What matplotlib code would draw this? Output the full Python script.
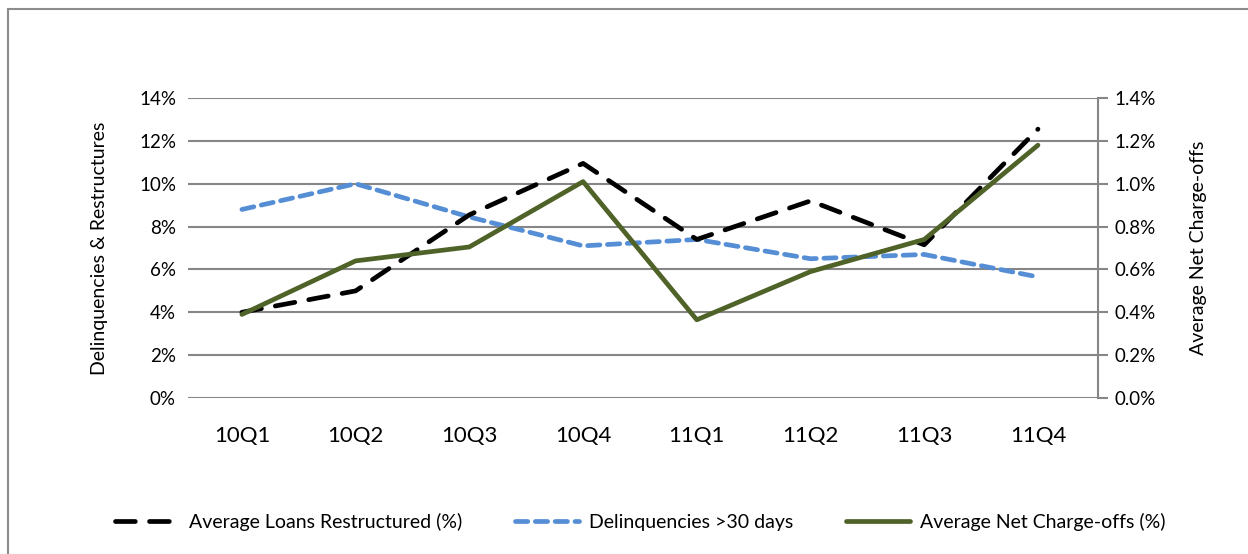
import matplotlib.pyplot as plt
from matplotlib.patches import Rectangle
from matplotlib.ticker import FuncFormatter

quarters = ["10Q1", "10Q2", "10Q3", "10Q4", "11Q1", "11Q2", "11Q3", "11Q4"]
# left axis, percent
loans_restructured = [4.0, 5.0, 8.55, 10.95, 7.4, 9.2, 7.15, 12.55]
delinquencies_30d = [8.8, 10.0, 8.45, 7.1, 7.4, 6.5, 6.7, 5.65]
# right axis, percent
net_charge_offs = [0.39, 0.64, 0.705, 1.01, 0.365, 0.59, 0.74, 1.18]

GRID = "#868686"
BLUE = "#558ED5"
GREEN = "#4F6228"

plt.rcParams["font.family"] = ["Lato", "DejaVu Sans"]

fig = plt.figure(figsize=(12.48, 5.54), dpi=100)
# Excel-style chart area border
fig.patches.append(Rectangle((8 / 1248, -0.1), 1.2, 1 - 9 / 554 + 0.1,
                             transform=fig.transFigure, fill=False,
                             edgecolor="#8c8c8c", linewidth=1.5))

ax = fig.add_axes([0.151, 0.2816, 0.729, 0.5414])
ax2 = ax.twinx()

x = range(len(quarters))
ln_blue, = ax.plot(x, delinquencies_30d, color=BLUE, lw=3.4,
                   dashes=(2.6, 1.6), dash_capstyle="round",
                   label="Delinquencies >30 days")
ln_black, = ax.plot(x, loans_restructured, color="black", lw=3.4,
                    dashes=(4.2, 3.0), dash_capstyle="round",
                    label="Average Loans Restructured (%)")
ln_green, = ax2.plot(x, net_charge_offs, color=GREEN, lw=3.4,
                     solid_capstyle="round", label="Average Net Charge-offs (%)")

ax.set_xlim(-0.47, 7.53)
ax.set_ylim(0, 14)
ax2.set_ylim(0, 1.4)
ax.set_yticks(range(0, 15, 2))
ax2.set_yticks([i / 10 for i in range(0, 15, 2)])
ax.yaxis.set_major_formatter(FuncFormatter(lambda v, _: f"{v:.0f}%"))
ax2.yaxis.set_major_formatter(FuncFormatter(lambda v, _: f"{v:.1f}%"))

ax.grid(axis="y", color=GRID, lw=1.5)
ax.set_axisbelow(True)
for side in ["top", "left", "bottom"]:
    ax.spines[side].set_visible(False)
    ax2.spines[side].set_visible(False)
ax.spines["right"].set_visible(False)
ax2.spines["right"].set_color(GRID)
ax2.spines["right"].set_linewidth(1.5)

ax.set_xticks(list(x))
ax.set_xticklabels(quarters, fontsize=16)
ax.tick_params(axis="x", length=0, pad=20)
ax.tick_params(axis="y", length=0, labelsize=13.5, pad=9)
ax2.tick_params(axis="y", length=7, width=1.5, color=GRID, labelsize=13.5, pad=5)

ax.set_ylabel("Delinquencies & Restructures", fontsize=14, labelpad=22)
ax2.set_ylabel("Average Net Charge-offs", fontsize=14, labelpad=24)

fig.legend(handles=[ln_black, ln_blue, ln_green], loc="center",
           bbox_to_anchor=(0.513, 0.058), ncol=3, frameon=False,
           fontsize=14, handlelength=3.3, columnspacing=2.7, handletextpad=0.5)

fig.savefig("out.png", dpi=100)
